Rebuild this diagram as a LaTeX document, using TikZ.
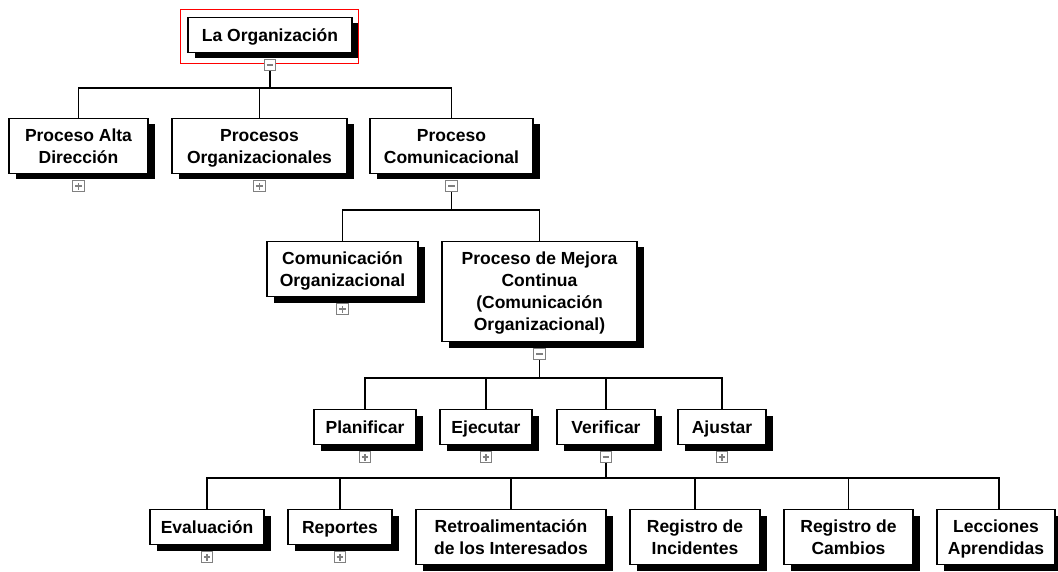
\documentclass[tikz,border=0pt]{standalone}
\usepackage{fontspec}
\setmainfont{Liberation Sans}
\usetikzlibrary{shadows}
% one text line with a fixed height and depth, centred on the capitals
\newcommand{\tl}[1]{\rule[-4.7pt]{0pt}{22pt}#1}
\begin{document}
\begin{tikzpicture}[x=1pt,y=-1pt,
  box/.style={draw=black, line width=1.3pt, fill=white, inner sep=0pt,
    align=center, font=\bfseries\fontsize{17.5}{22}\selectfont,
    general shadow={fill=black, shadow xshift=7pt, shadow yshift=-6pt}},
  one/.style={box, minimum height=35pt},
  two/.style={box, minimum height=55pt},
  four/.style={box, minimum height=100pt},
  toggle/.style={draw=black!50, line width=1.1pt, fill=white, minimum size=11.5pt, inner sep=0pt},
  tplus/.style={toggle, path picture={
    \draw[line width=1.5pt] ([xshift=-3.4pt]path picture bounding box.center) -- ([xshift=3.4pt]path picture bounding box.center);
    \draw[line width=1.5pt] ([yshift=-3.4pt]path picture bounding box.center) -- ([yshift=3.4pt]path picture bounding box.center);}},
  tminus/.style={toggle, path picture={
    \draw[line width=1.5pt] ([xshift=-3.4pt]path picture bounding box.center) -- ([xshift=3.4pt]path picture bounding box.center);}},
  link/.style={draw=black, line width=1.3pt}
]
\useasboundingbox (0,0) rectangle (1058,572);

% level 0
\node[one, minimum width=164pt] (org) at (270,35) {\tl{La Organización}};
\draw[red, line width=1pt] ([shift={(-7,-7)}]org.north west) rectangle ([shift={(6,10)}]org.south east);
\node[tminus] (torg) at ([yshift=-12pt]org.south) {};

% level 1
\node[two, minimum width=139pt] (pad)  at (78.5,146)  {\tl{Proceso Alta}\\\tl{Dirección}};
\node[two, minimum width=175pt] (porg) at (259.5,146) {\tl{Procesos}\\\tl{Organizacionales}};
\node[two, minimum width=163pt] (pcom) at (451.5,146) {\tl{Proceso}\\\tl{Comunicacional}};
\node[tplus]  (tpad)  at ([yshift=-12pt]pad.south) {};
\node[tplus]  (tporg) at ([yshift=-12pt]porg.south) {};
\node[tminus] (tpcom) at ([yshift=-12pt]pcom.south) {};

% level 2
\node[two, minimum width=151pt]  (corg) at (342.5,269) {\tl{Comunicación}\\\tl{Organizacional}};
\node[four, minimum width=195pt] (pmc)  at (539.5,291.5) {\tl{Proceso de Mejora}\\\tl{Continua}\\\tl{(Comunicación}\\\tl{Organizacional)}};
\node[tplus]  (tcorg) at ([yshift=-12pt]corg.south) {};
\node[tminus] (tpmc)  at ([yshift=-12pt]pmc.south) {};

% level 3
\node[one, minimum width=102pt] (plan) at (365,427) {\tl{Planificar}};
\node[one, minimum width=92pt]  (ejec) at (486,427) {\tl{Ejecutar}};
\node[one, minimum width=98pt]  (veri) at (606,427) {\tl{Verificar}};
\node[one, minimum width=88pt]  (ajus) at (722,427) {\tl{Ajustar}};
\node[tplus]  (tplan) at ([yshift=-12pt]plan.south) {};
\node[tplus]  (tejec) at ([yshift=-12pt]ejec.south) {};
\node[tminus] (tveri) at ([yshift=-12pt]veri.south) {};
\node[tplus]  (tajus) at ([yshift=-12pt]ajus.south) {};

% level 4
\node[one, minimum width=114pt] (eval)  at (207,527)   {\tl{Evaluación}};
\node[one, minimum width=104pt] (repo)  at (340,527)   {\tl{Reportes}};
\node[two, minimum width=190pt] (retro) at (511,537)   {\tl{Retroalimentación}\\\tl{de los Interesados}};
\node[two, minimum width=130pt] (rinc)  at (695,537)   {\tl{Registro de}\\\tl{Incidentes}};
\node[two, minimum width=129pt] (rcam)  at (848.5,537) {\tl{Registro de}\\\tl{Cambios}};
\node[two, minimum width=118pt] (lecc)  at (996,537)   {\tl{Lecciones}\\\tl{Aprendidas}};
\node[tplus] (teval) at ([yshift=-12pt]eval.south) {};
\node[tplus] (trepo) at ([yshift=-12pt]repo.south) {};

% buses
\coordinate (b0) at (270,88);
\coordinate (b1) at (451.5,210);
\coordinate (b2) at (539.5,378);
\coordinate (b3) at (606,478);

\draw[link] (torg.south) -- (b0) -| (pad.north);
\draw[link] (b0) -| (porg.north);
\draw[link] (b0) -| (pcom.north);

\draw[link] (tpcom.south) -- (b1) -| (corg.north);
\draw[link] (b1) -| (pmc.north);

\draw[link] (tpmc.south) -- (b2) -| (plan.north);
\draw[link] (b2) -| (ejec.north);
\draw[link] (b2) -| (veri.north);
\draw[link] (b2) -| (ajus.north);

\draw[link] (tveri.south) -- (b3) -| (eval.north);
\draw[link] (b3) -| (repo.north);
\draw[link] (b3) -| (retro.north);
\draw[link] (b3) -| (rinc.north);
\draw[link] (b3) -| (rcam.north);
\draw[link] (b3) -| ([xshift=3pt]lecc.north);
\end{tikzpicture}
\end{document}
